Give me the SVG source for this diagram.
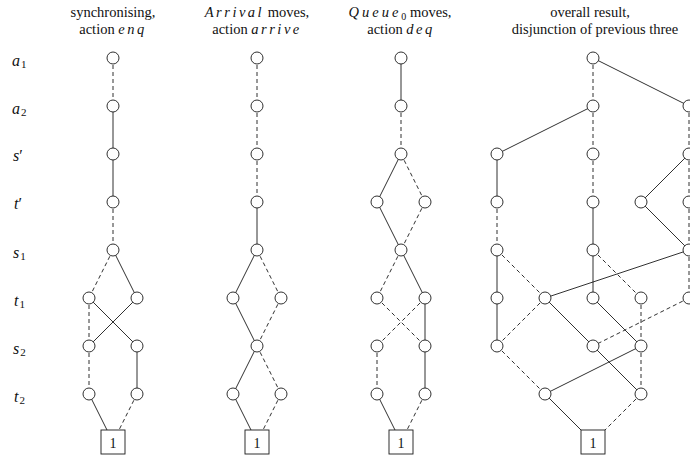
<svg xmlns="http://www.w3.org/2000/svg" width="690" height="458" viewBox="0 0 690 458">
<defs>
<style>
.n{fill:#fff;stroke:#1a1a1a;stroke-width:0.9}
.b{fill:#fff;stroke:#1a1a1a;stroke-width:0.9}
#edges line{stroke:#1a1a1a;stroke-width:0.9;fill:none}
#edges line.d{stroke-dasharray:4 3}
text{fill:#111}
.h{font-size:14.5px;text-anchor:middle}
.m{font-style:italic;letter-spacing:2.5px}
.lab{font-size:16px}
.v{font-style:italic}
.one{font-size:14px;text-anchor:middle}
</style>
</defs>
<rect width="690" height="458" fill="#fff"/>
<g id="headers" font-family="'Liberation Serif','DejaVu Serif','Noto Serif',serif">
<text class="h" x="113" y="17">synchronising,</text>
<text class="h" x="113" y="34">action <tspan class="m">enq</tspan></text>
<text class="h" x="257" y="17"><tspan class="m">Arrival</tspan> moves,</text>
<text class="h" x="257" y="34">action <tspan class="m">arrive</tspan></text>
<text class="h" x="400" y="17"><tspan class="m" style="letter-spacing:3px">Queue</tspan><tspan font-size="10" dy="3">0</tspan><tspan dy="-3"> moves,</tspan></text>
<text class="h" x="401" y="34">action <tspan class="m">deq</tspan></text>
<text class="h" x="590" y="17">overall result,</text>
<text class="h" x="595" y="34">disjunction of previous three</text>
</g>
<g id="row-labels" class="lab" font-family="'Liberation Serif','DejaVu Serif','Noto Serif',serif">
<text x="12" y="66"><tspan class="v">a</tspan><tspan font-size="11" dx="1" dy="2">1</tspan></text>
<text x="12" y="114"><tspan class="v">a</tspan><tspan font-size="11" dx="1" dy="2">2</tspan></text>
<text x="13" y="161"><tspan class="v">s</tspan>′</text>
<text x="14" y="209"><tspan class="v">t</tspan>′</text>
<text x="13" y="258"><tspan class="v">s</tspan><tspan font-size="11" dx="1" dy="2">1</tspan></text>
<text x="14" y="306"><tspan class="v">t</tspan><tspan font-size="11" dx="1" dy="2">1</tspan></text>
<text x="13" y="354"><tspan class="v">s</tspan><tspan font-size="11" dx="1" dy="2">2</tspan></text>
<text x="14" y="402"><tspan class="v">t</tspan><tspan font-size="11" dx="1" dy="2">2</tspan></text>
</g>
<g id="edges">
<line class="d" x1="113" y1="58" x2="113" y2="106"/>
<line x1="113" y1="106" x2="113" y2="154"/>
<line x1="113" y1="154" x2="113" y2="202"/>
<line class="d" x1="113" y1="202" x2="113" y2="250"/>
<line class="d" x1="113" y1="250" x2="89" y2="298"/>
<line x1="113" y1="250" x2="137" y2="298"/>
<line class="d" x1="89" y1="298" x2="89" y2="346"/>
<line x1="89" y1="298" x2="137" y2="346"/>
<line x1="137" y1="298" x2="89" y2="346"/>
<line class="d" x1="89" y1="346" x2="89" y2="394"/>
<line x1="137" y1="346" x2="137" y2="394"/>
<line x1="89" y1="394" x2="113" y2="442"/>
<line class="d" x1="137" y1="394" x2="113" y2="442"/>
<line class="d" x1="257" y1="58" x2="257" y2="106"/>
<line class="d" x1="257" y1="106" x2="257" y2="154"/>
<line class="d" x1="257" y1="154" x2="257" y2="202"/>
<line x1="257" y1="202" x2="257" y2="250"/>
<line x1="257" y1="250" x2="233" y2="298"/>
<line class="d" x1="257" y1="250" x2="281" y2="298"/>
<line x1="233" y1="298" x2="257" y2="346"/>
<line class="d" x1="281" y1="298" x2="257" y2="346"/>
<line x1="257" y1="346" x2="233" y2="394"/>
<line class="d" x1="257" y1="346" x2="281" y2="394"/>
<line x1="233" y1="394" x2="257" y2="442"/>
<line class="d" x1="281" y1="394" x2="257" y2="442"/>
<line x1="401" y1="58" x2="401" y2="106"/>
<line class="d" x1="401" y1="106" x2="401" y2="154"/>
<line x1="401" y1="154" x2="377" y2="202"/>
<line class="d" x1="401" y1="154" x2="425" y2="202"/>
<line x1="377" y1="202" x2="401" y2="250"/>
<line class="d" x1="425" y1="202" x2="401" y2="250"/>
<line class="d" x1="401" y1="250" x2="377" y2="298"/>
<line x1="401" y1="250" x2="425" y2="298"/>
<line class="d" x1="377" y1="298" x2="425" y2="346"/>
<line class="d" x1="425" y1="298" x2="377" y2="346"/>
<line x1="425" y1="298" x2="425" y2="346"/>
<line class="d" x1="377" y1="346" x2="377" y2="394"/>
<line x1="425" y1="346" x2="425" y2="394"/>
<line x1="377" y1="394" x2="401" y2="442"/>
<line class="d" x1="425" y1="394" x2="401" y2="442"/>
<line class="d" x1="593" y1="58" x2="593" y2="106"/>
<line x1="593" y1="58" x2="689" y2="106"/>
<line class="d" x1="593" y1="106" x2="593" y2="154"/>
<line x1="593" y1="106" x2="497" y2="154"/>
<line class="d" x1="689" y1="106" x2="689" y2="154"/>
<line x1="497" y1="154" x2="497" y2="202"/>
<line class="d" x1="593" y1="154" x2="593" y2="202"/>
<line x1="689" y1="154" x2="641" y2="202"/>
<line class="d" x1="689" y1="154" x2="689" y2="202"/>
<line class="d" x1="497" y1="202" x2="497" y2="250"/>
<line x1="593" y1="202" x2="593" y2="250"/>
<line x1="641" y1="202" x2="689" y2="250"/>
<line class="d" x1="689" y1="202" x2="689" y2="250"/>
<line x1="497" y1="250" x2="497" y2="298"/>
<line class="d" x1="497" y1="250" x2="545" y2="298"/>
<line x1="593" y1="250" x2="593" y2="298"/>
<line class="d" x1="593" y1="250" x2="641" y2="298"/>
<line x1="689" y1="250" x2="545" y2="298"/>
<line class="d" x1="689" y1="250" x2="689" y2="298"/>
<line x1="497" y1="298" x2="497" y2="346"/>
<line class="d" x1="545" y1="298" x2="497" y2="346"/>
<line x1="545" y1="298" x2="593" y2="346"/>
<line x1="593" y1="298" x2="641" y2="346"/>
<line class="d" x1="641" y1="298" x2="641" y2="346"/>
<line class="d" x1="689" y1="298" x2="593" y2="346"/>
<line class="d" x1="497" y1="346" x2="545" y2="394"/>
<line x1="593" y1="346" x2="641" y2="394"/>
<line x1="641" y1="346" x2="545" y2="394"/>
<line class="d" x1="641" y1="346" x2="641" y2="394"/>
<line x1="545" y1="394" x2="593" y2="442"/>
<line class="d" x1="641" y1="394" x2="593" y2="442"/>
</g>
<g id="nodes" font-family="'Liberation Serif','DejaVu Serif','Noto Serif',serif">
<g id="c1-a1"><circle class="n" cx="113" cy="58" r="6"/></g>
<g id="c1-a2"><circle class="n" cx="113" cy="106" r="6"/></g>
<g id="c1-sp"><circle class="n" cx="113" cy="154" r="6"/></g>
<g id="c1-tp"><circle class="n" cx="113" cy="202" r="6"/></g>
<g id="c1-s1"><circle class="n" cx="113" cy="250" r="6"/></g>
<g id="c1-t1a"><circle class="n" cx="89" cy="298" r="6"/></g>
<g id="c1-t1b"><circle class="n" cx="137" cy="298" r="6"/></g>
<g id="c1-s2a"><circle class="n" cx="89" cy="346" r="6"/></g>
<g id="c1-s2b"><circle class="n" cx="137" cy="346" r="6"/></g>
<g id="c1-t2a"><circle class="n" cx="89" cy="394" r="6"/></g>
<g id="c1-t2b"><circle class="n" cx="137" cy="394" r="6"/></g>
<g id="c1-one"><rect class="b" x="101" y="430" width="24" height="24"/><text class="one" x="113" y="447.5">1</text></g>
<g id="c2-a1"><circle class="n" cx="257" cy="58" r="6"/></g>
<g id="c2-a2"><circle class="n" cx="257" cy="106" r="6"/></g>
<g id="c2-sp"><circle class="n" cx="257" cy="154" r="6"/></g>
<g id="c2-tp"><circle class="n" cx="257" cy="202" r="6"/></g>
<g id="c2-s1"><circle class="n" cx="257" cy="250" r="6"/></g>
<g id="c2-t1a"><circle class="n" cx="233" cy="298" r="6"/></g>
<g id="c2-t1b"><circle class="n" cx="281" cy="298" r="6"/></g>
<g id="c2-s2"><circle class="n" cx="257" cy="346" r="6"/></g>
<g id="c2-t2a"><circle class="n" cx="233" cy="394" r="6"/></g>
<g id="c2-t2b"><circle class="n" cx="281" cy="394" r="6"/></g>
<g id="c2-one"><rect class="b" x="245" y="430" width="24" height="24"/><text class="one" x="257" y="447.5">1</text></g>
<g id="c3-a1"><circle class="n" cx="401" cy="58" r="6"/></g>
<g id="c3-a2"><circle class="n" cx="401" cy="106" r="6"/></g>
<g id="c3-sp"><circle class="n" cx="401" cy="154" r="6"/></g>
<g id="c3-tpa"><circle class="n" cx="377" cy="202" r="6"/></g>
<g id="c3-tpb"><circle class="n" cx="425" cy="202" r="6"/></g>
<g id="c3-s1"><circle class="n" cx="401" cy="250" r="6"/></g>
<g id="c3-t1a"><circle class="n" cx="377" cy="298" r="6"/></g>
<g id="c3-t1b"><circle class="n" cx="425" cy="298" r="6"/></g>
<g id="c3-s2a"><circle class="n" cx="377" cy="346" r="6"/></g>
<g id="c3-s2b"><circle class="n" cx="425" cy="346" r="6"/></g>
<g id="c3-t2a"><circle class="n" cx="377" cy="394" r="6"/></g>
<g id="c3-t2b"><circle class="n" cx="425" cy="394" r="6"/></g>
<g id="c3-one"><rect class="b" x="389" y="430" width="24" height="24"/><text class="one" x="401" y="447.5">1</text></g>
<g id="c4-a1"><circle class="n" cx="593" cy="58" r="6"/></g>
<g id="c4-a2c"><circle class="n" cx="593" cy="106" r="6"/></g>
<g id="c4-a2e"><circle class="n" cx="689" cy="106" r="6"/></g>
<g id="c4-spa"><circle class="n" cx="497" cy="154" r="6"/></g>
<g id="c4-spc"><circle class="n" cx="593" cy="154" r="6"/></g>
<g id="c4-spe"><circle class="n" cx="689" cy="154" r="6"/></g>
<g id="c4-tpa"><circle class="n" cx="497" cy="202" r="6"/></g>
<g id="c4-tpc"><circle class="n" cx="593" cy="202" r="6"/></g>
<g id="c4-tpd"><circle class="n" cx="641" cy="202" r="6"/></g>
<g id="c4-tpe"><circle class="n" cx="689" cy="202" r="6"/></g>
<g id="c4-s1a"><circle class="n" cx="497" cy="250" r="6"/></g>
<g id="c4-s1c"><circle class="n" cx="593" cy="250" r="6"/></g>
<g id="c4-s1e"><circle class="n" cx="689" cy="250" r="6"/></g>
<g id="c4-t1a"><circle class="n" cx="497" cy="298" r="6"/></g>
<g id="c4-t1b"><circle class="n" cx="545" cy="298" r="6"/></g>
<g id="c4-t1c"><circle class="n" cx="593" cy="298" r="6"/></g>
<g id="c4-t1d"><circle class="n" cx="641" cy="298" r="6"/></g>
<g id="c4-t1e"><circle class="n" cx="689" cy="298" r="6"/></g>
<g id="c4-s2a"><circle class="n" cx="497" cy="346" r="6"/></g>
<g id="c4-s2c"><circle class="n" cx="593" cy="346" r="6"/></g>
<g id="c4-s2d"><circle class="n" cx="641" cy="346" r="6"/></g>
<g id="c4-t2b"><circle class="n" cx="545" cy="394" r="6"/></g>
<g id="c4-t2d"><circle class="n" cx="641" cy="394" r="6"/></g>
<g id="c4-one"><rect class="b" x="581" y="430" width="24" height="24"/><text class="one" x="593" y="447.5">1</text></g>
</g>
</svg>
